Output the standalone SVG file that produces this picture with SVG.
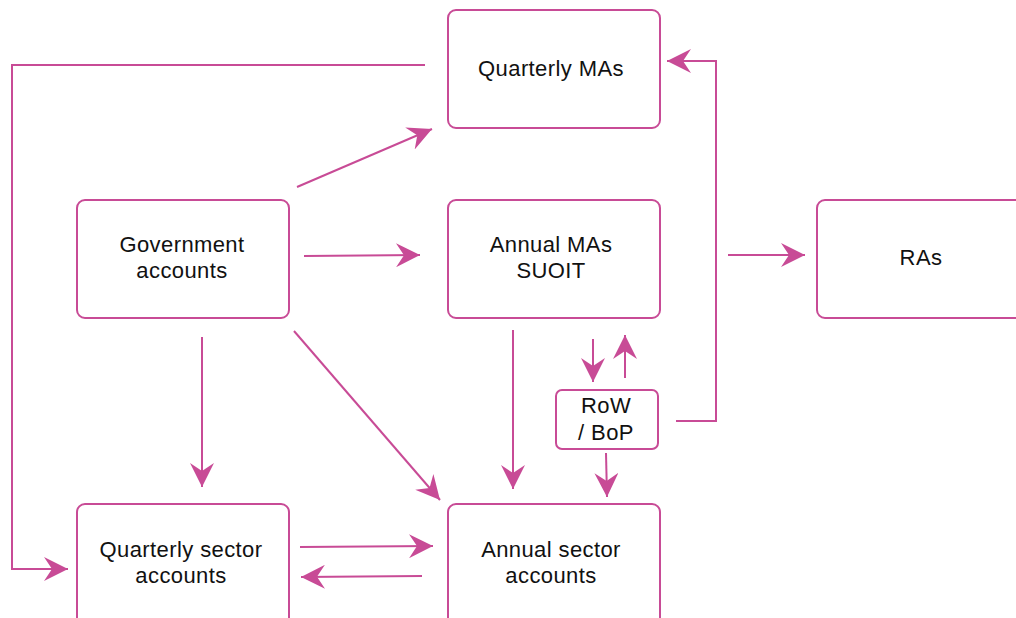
<svg xmlns="http://www.w3.org/2000/svg" width="1016" height="618" viewBox="0 0 1016 618">
  <style>
    .box { fill: #ffffff; stroke: #C84B96; stroke-width: 2; }
    .lbl { font-family: "Liberation Sans", Arial, sans-serif; font-size: 22px; letter-spacing: 0.4px; fill: #111111; text-anchor: middle; }
    .edge { fill: none; stroke: #C84B96; stroke-width: 2; }
  </style>
  <defs>
    <marker id="arrow" viewBox="0 0 24 24" refX="24" refY="12" markerWidth="24" markerHeight="24" markerUnits="userSpaceOnUse" orient="auto">
      <path d="M0,0 L24,12 L0,24 L8,12 Z" fill="#C84B96"/>
    </marker>
  </defs>
  <rect width="1016" height="618" fill="#ffffff"/>

  <g id="connectors">
    <path class="edge" d="M425,65 H12 V569 H68" marker-end="url(#arrow)"/>
    <path class="edge" d="M297,187 L432,129" marker-end="url(#arrow)"/>
    <path class="edge" d="M304,256 L420,255" marker-end="url(#arrow)"/>
    <path class="edge" d="M202,337 V487" marker-end="url(#arrow)"/>
    <path class="edge" d="M294,331 L440,500" marker-end="url(#arrow)"/>
    <path class="edge" d="M513,330 V489" marker-end="url(#arrow)"/>
    <path class="edge" d="M593,339 V382" marker-end="url(#arrow)"/>
    <path class="edge" d="M625,378 V335" marker-end="url(#arrow)"/>
    <path class="edge" d="M606,453 L607,497" marker-end="url(#arrow)"/>
    <path class="edge" d="M676,421 H716 V61 H667" marker-end="url(#arrow)"/>
    <path class="edge" d="M728,255 H805" marker-end="url(#arrow)"/>
    <path class="edge" d="M300,547 L433,546" marker-end="url(#arrow)"/>
    <path class="edge" d="M422,576 L301,577" marker-end="url(#arrow)"/>
  </g>

  <g id="quarterly-mas">
    <rect class="box" x="448" y="10" width="212" height="118" rx="8"/>
    <text class="lbl" x="551" y="76">Quarterly MAs</text>
  </g>
  <g id="government-accounts">
    <rect class="box" x="77" y="200" width="212" height="118" rx="8"/>
    <text class="lbl" x="182" y="252">Government</text>
    <text class="lbl" x="182" y="278">accounts</text>
  </g>
  <g id="annual-mas">
    <rect class="box" x="448" y="200" width="212" height="118" rx="8"/>
    <text class="lbl" x="551" y="252">Annual MAs</text>
    <text class="lbl" x="551" y="278">SUOIT</text>
  </g>
  <g id="ras">
    <rect class="box" x="817" y="200" width="212" height="118" rx="8"/>
    <text class="lbl" x="921" y="265">RAs</text>
  </g>
  <g id="row-bop">
    <rect class="box" x="556" y="390" width="102" height="59" rx="6"/>
    <text class="lbl" x="606" y="413">RoW</text>
    <text class="lbl" x="606" y="440">/ BoP</text>
  </g>
  <g id="quarterly-sector-accounts">
    <rect class="box" x="77" y="504" width="212" height="130" rx="8"/>
    <text class="lbl" x="181" y="557">Quarterly sector</text>
    <text class="lbl" x="181" y="583">accounts</text>
  </g>
  <g id="annual-sector-accounts">
    <rect class="box" x="448" y="504" width="212" height="130" rx="8"/>
    <text class="lbl" x="551" y="557">Annual sector</text>
    <text class="lbl" x="551" y="583">accounts</text>
  </g>
</svg>
